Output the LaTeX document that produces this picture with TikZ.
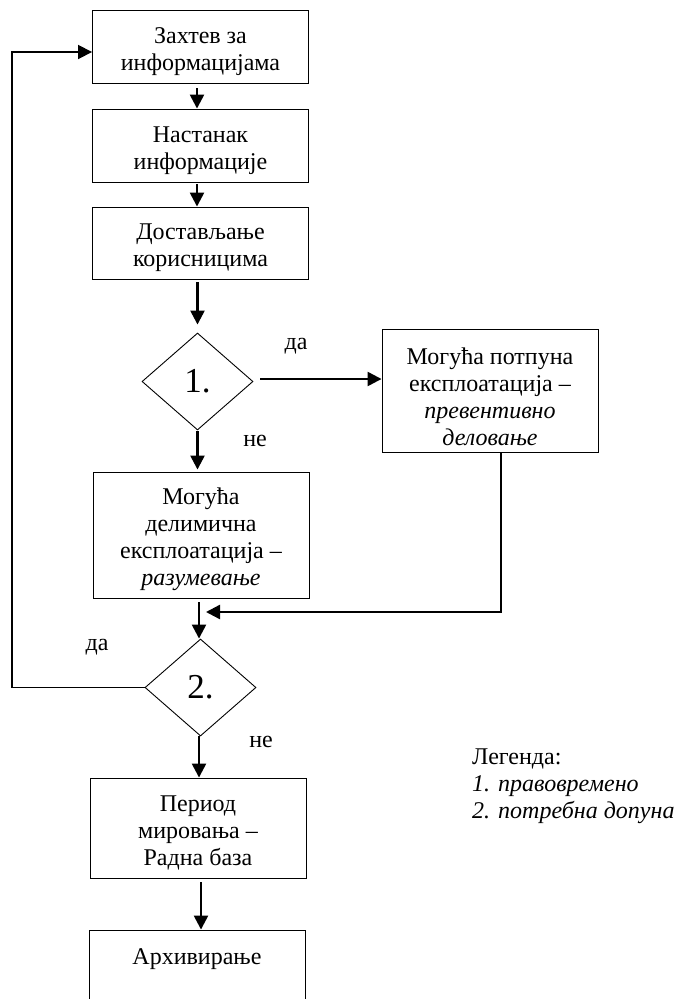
\documentclass[tikz,border=0pt]{standalone}
\usepackage{fontspec}
\setmainfont{Liberation Serif}
\usetikzlibrary{shapes.geometric,arrows.meta,calc}
\newcommand{\mytopstrut}{\rule{0pt}{26pt}}
\tikzset{
  boxnode/.style={draw, line width=0.9pt, align=center, inner sep=0pt,
    minimum width=216pt, font=\fontsize{24}{27}\selectfont},
  decision/.style={diamond, draw, line width=0.9pt, inner sep=0pt,
    minimum width=111pt, minimum height=97pt, font=\fontsize{35}{40}\selectfont},
  lbl/.style={inner sep=0pt, font=\fontsize{24}{27}\selectfont},
  arr/.style={line width=2.4pt, -{Triangle[length=14pt,width=14pt]}},
  fbarr/.style={line width=1.8pt, -{Triangle[length=14pt,width=14pt]}}
}
\begin{document}
\begin{tikzpicture}[x=1pt,y=-1pt]
\useasboundingbox (0,0) rectangle (676,999);
\clip (0,0) rectangle (676,999);
\fill[white] (0,0) rectangle (676,999);

\node[boxnode, minimum height=73pt] (b1) at (200.5,46.5) {\mytopstrut Захтев за\\информацијама};
\node[boxnode, minimum height=73pt] (b2) at (200.5,145.5) {\mytopstrut Настанак\\информације};
\node[boxnode, minimum height=72pt] (b3) at (200.5,243) {\mytopstrut Достављање\\корисницима};
\node[decision] (d1) at (197.5,381.5) {1.};
\node[boxnode, minimum height=123pt] (rb) at (490,390.5) {\rule{0pt}{30pt}Могућа потпуна\\експлоатација –\\\textit{превентивно}\\\textit{деловање}};
\node[boxnode, minimum height=126pt] (b4) at (201,535) {\mytopstrut Могућа\\делимична\\експлоатација –\\\textit{разумевање}};
\node[decision] (d2) at (200.5,687.5) {2.};
\node[boxnode, minimum height=100pt] (b5) at (198,828) {\mytopstrut Период\\мировања –\\Радна база};
\node[boxnode, minimum height=80pt] (b6) at (197,970) {Архивирање\\\mbox{}};

\node[lbl] (l1) at (296,346) {да};
\node[lbl] (l2) at (255,441) {не};
\node[lbl] (l3) at (97,647) {да};
\node[lbl] (l4) at (261,742) {не};

\node[lbl, align=left, anchor=west] (leg) at (472,786) {Легенда:\\\textit{1. правовремено}\\\textit{2. потребна допуна}};

\coordinate (mj) at (200,612);
\coordinate (fbx) at (12,0);

\draw[arr, shorten <=5pt] ([xshift=-3.5pt]b1.south) -- ([xshift=-3.5pt]b2.north);
\draw[arr, shorten <=2pt] ([xshift=-3.5pt]b2.south) -- ([xshift=-3.5pt]b3.north);
\draw[arr, shorten <=3pt, shorten >=8pt] (b3.south -| d1.north) -- (d1.north);
\draw[arr, shorten <=7pt] ([yshift=2.5pt]d1.east) -- ([yshift=2.5pt]d1.east -| rb.west);
\draw[arr, shorten <=1pt, shorten >=2pt] (d1.south) -- (d1.south |- b4.north);
\draw[arr, shorten >=6pt] ([xshift=11pt]rb.south) |- (mj);
\draw[arr, shorten <=4pt] ([xshift=-1.5pt]b4.south -| d2.north) -- ([xshift=-1.5pt]d2.north);
\draw[fbarr] (d2.west) -- (d2.west -| fbx) |- ([yshift=-5.5pt]b1.west);
\draw[arr] ([xshift=-1.5pt]d2.south) -- ([xshift=-1.5pt]d2.south |- b5.north);
\draw[arr, shorten <=4pt] ([xshift=3pt]b5.south) -- ([xshift=3pt]b5.south |- b6.north);
\end{tikzpicture}
\end{document}
